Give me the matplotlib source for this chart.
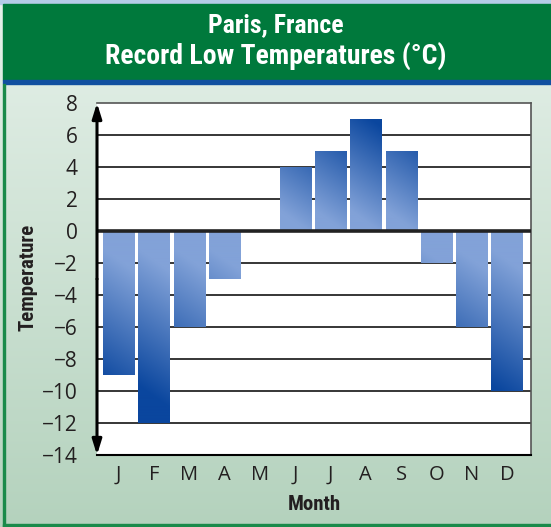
import matplotlib
matplotlib.use("Agg")
import matplotlib.pyplot as plt
import numpy as np
from matplotlib.patches import Rectangle
from matplotlib import font_manager

months = ["J", "F", "M", "A", "M", "J", "J", "A", "S", "O", "N", "D"]
lows = [-9, -12, -6, -3, 0, 4, 5, 7, 5, -2, -6, -10]
yticks = [8, 6, 4, 2, 0, -2, -4, -6, -8, -10, -12, -14]
title_lines = ["Paris, France", "Record Low Temperatures (°C)"]
x_label = "Month"
y_label = "Temperature"

names = {f.name for f in font_manager.fontManager.ttflist}
cond = "Roboto"
for cand in ["Roboto Condensed", "Liberation Sans Narrow", "Open Sans Condensed"]:
    if cand in names:
        cond = cand
        break
reg = "Open Sans"

W, H = 551, 527
fig = plt.figure(figsize=(W / 100, H / 100), dpi=100)

# background gradient
bg = fig.add_axes([0, 0, 1, 1], zorder=0)
bg.set_axis_off()
grad = np.linspace(0, 1, 256).reshape(-1, 1)
top_c = np.array([0xe6, 0xf1, 0xea]) / 255
bot_c = np.array([0xb4, 0xd2, 0xbd]) / 255
img = top_c[None, None, :] * (1 - grad[..., None]) + bot_c[None, None, :] * grad[..., None]
bg.imshow(img, extent=[0, W, H, 0], aspect="auto", origin="upper")
bg.set_xlim(0, W)
bg.set_ylim(H, 0)
bg.add_patch(Rectangle((0, 0), W, 4, color="#b5cce8"))
bg.add_patch(Rectangle((3, 4), W - 3, 76, color="#00793c"))
bg.add_patch(Rectangle((3, 80), W - 3, 4, color="#1150a0"))
bg.add_patch(Rectangle((3, 84), 2.2, H - 84, color="#1a8a4a"))
bg.add_patch(Rectangle((3, H - 3), W - 3, 3, color="#1a8a4a"))
bg.text(W / 2, 25.5, title_lines[0], color="white", fontsize=18.5, fontweight="bold",
        family=cond, ha="center", va="center")
bg.text(W / 2, 56, title_lines[1], color="white", fontsize=20, fontweight="bold",
        family=cond, ha="center", va="center")

# plot area: x 97..531, y 103..455 (pixels from top)
L, R, T, B = 97, 531, 103, 455
ax = fig.add_axes([L / W, 1 - B / H, (R - L) / W, (B - T) / H], zorder=2)
ax.set_facecolor("white")

for yv in yticks:
    if yv not in (0, 8, -14):
        ax.axhline(yv, color="black", lw=1.1, zorder=1)

xlo, xhi, ylo, yhi = -0.61, 11.68, -14, 8
px_per_x = (R - L) / (xhi - xlo)
px_per_y = (B - T) / (yhi - ylo)

xs = np.arange(len(months))
bars = ax.bar(xs, lows, width=0.88, color="none", zorder=2)
dark = np.array([0x0a, 0x46, 0x9e]) / 255
light = np.array([0x82, 0xa2, 0xd8]) / 255
for b, val in zip(bars, lows):
    if val == 0:
        continue
    x0 = b.get_x()
    w = b.get_width()
    wpx = w * px_per_x
    hpx = abs(val) * px_per_y
    nr, nc = int(hpx) + 1, int(wpx) + 1
    ypx = np.linspace(0, hpx, nr)[:, None]
    xpx = np.linspace(0, wpx, nc)[None, :]
    if val > 0:
        dist = ypx[::-1] + 0.7 * xpx
        t = (dist - 20) / 107
        ext = [x0, x0 + w, 0, val]
    else:
        dist = ypx + 0.7 * (wpx - xpx)
        t = (dist - 40) / 137
        ext = [x0, x0 + w, val, 0]
    t = np.clip(t, 0, 1)
    cimg = light[None, None, :] * (1 - t[..., None]) + dark[None, None, :] * t[..., None]
    im = ax.imshow(cimg, extent=ext, aspect="auto", origin="upper", zorder=2,
                   interpolation="bilinear")
    im.set_clip_path(b)

ax.set_xlim(xlo, xhi)
ax.set_ylim(ylo, yhi)
ax.axhline(0, color="#222222", lw=2.6, zorder=3)

for s in ["top", "right"]:
    ax.spines[s].set_color("#555555")
    ax.spines[s].set_linewidth(1.2)
ax.spines["bottom"].set_color("black")
ax.spines["bottom"].set_linewidth(1.5)
ax.spines["left"].set_visible(False)

for yend in (1, 0):
    ax.annotate("", xy=(0, yend), xytext=(0, 0.5), xycoords="axes fraction",
                arrowprops=dict(arrowstyle="-|>,head_length=0.9,head_width=0.28",
                                color="black", lw=2.2, shrinkA=0, shrinkB=0),
                zorder=5, annotation_clip=False)

ax.set_yticks(yticks)
ax.set_yticklabels([str(t).replace("-", "\u2212") for t in yticks], family=reg,
                   fontsize=15, color="#231f20")
ax.set_xticks(xs)
ax.set_xticklabels(months, family=reg, fontsize=14.5, color="#231f20")
ax.tick_params(axis="both", length=0)
ax.tick_params(axis="y", pad=14)
ax.tick_params(axis="x", pad=7)

fig.text(314 / W, 1 - 505 / H, x_label, family=cond, fontweight="bold", fontsize=15,
         ha="center", va="center", color="#231f20")
fig.text(28 / W, 1 - 277 / H, y_label, family=cond, fontweight="bold", fontsize=15,
         ha="center", va="center", rotation=90, color="#231f20")

fig.savefig("out.png", dpi=100)
